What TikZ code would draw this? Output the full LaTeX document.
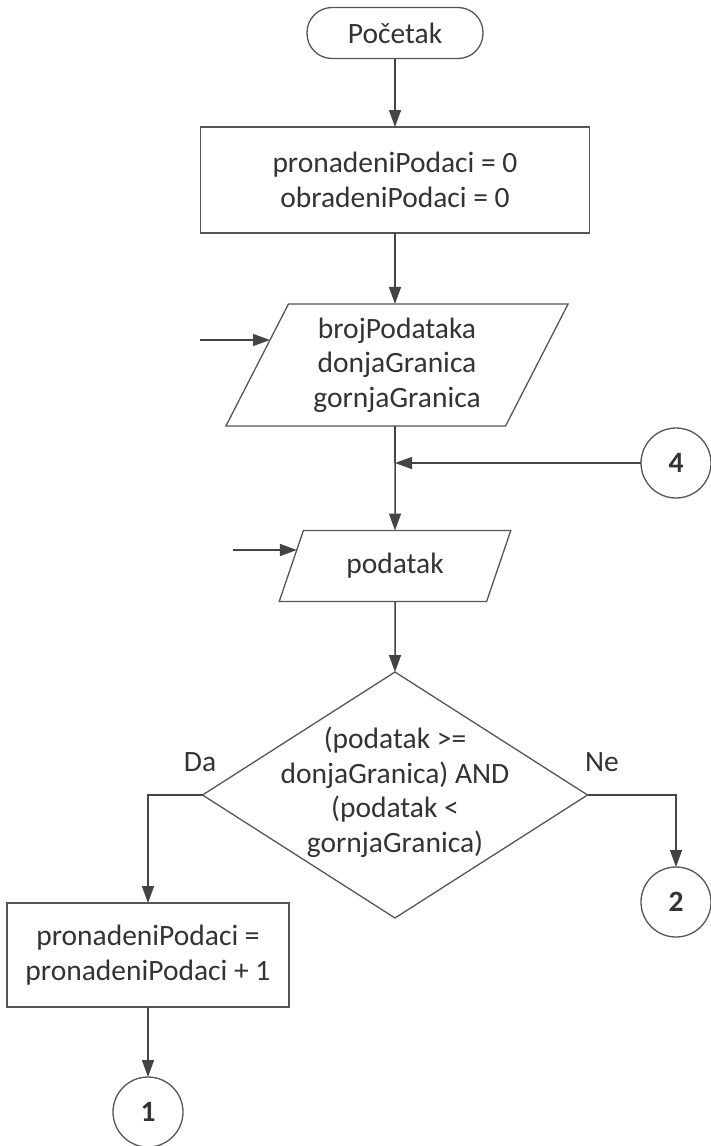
\documentclass[tikz,border=0pt]{standalone}
\usepackage{fontspec}
\setmainfont{Carlito}
\usetikzlibrary{shapes.geometric,arrows.meta,calc}
\definecolor{ink}{HTML}{333333}
\definecolor{edge}{HTML}{555555}
\definecolor{wire}{HTML}{444444}
\begin{document}
\begin{tikzpicture}[x=1pt,y=-1pt,
  every node/.style={font=\fontsize{29.5}{34.5}\selectfont, text=ink, align=center, inner sep=0pt, outer sep=0pt},
  shapebox/.style={draw=edge, line width=1.3pt},
  terminal/.style={shapebox, rectangle, rounded corners=25pt, minimum width=176pt, minimum height=51pt},
  process/.style={shapebox, rectangle},
  io/.style={shapebox, trapezium, trapezium left angle=63, trapezium right angle=117, trapezium stretches=true},
  decision/.style={shapebox, diamond},
  connector/.style={shapebox, circle, minimum size=70pt, font=\fontsize{29.5}{34.5}\selectfont\bfseries},
  flow/.style={draw=wire, line width=1.5pt, -{Triangle[length=17pt,width=12pt]}}
]
\useasboundingbox (0,0) rectangle (710,1146);

% shapes
\node[terminal] (start) at (395,33) {Početak};
\node[process, minimum width=389pt, minimum height=106pt] (init) at (395,180)
  {pronadeniPodaci = 0\\obradeniPodaci = 0};
\node[io, minimum width=343pt, minimum height=122pt] (readLimits) at (397,365)
  {brojPodataka\\donjaGranica\\gornjaGranica};
\node[connector] (c4) at (676,463) {4};
\node[io, minimum width=232pt, minimum height=71pt] (readValue) at (395,566) {podatak};
\node[decision, minimum width=385pt, minimum height=246pt] (test) at (395,795) {};
\node (testText) at (395,792)
  {(podatak >=\\donjaGranica) AND\\(podatak <\\gornjaGranica)};
\node[process, minimum width=282pt, minimum height=104pt] (count) at (148,955)
  {pronadeniPodaci =\\pronadeniPodaci + 1};
\node[connector] (c1) at (148,1112) {1};
\node[connector] (c2) at (676,902) {2};
\node (yes) at (200,762) {Da};
\node (no) at (602,762) {Ne};

% helper points
\coordinate (in1) at (200,340);
\coordinate (in2) at (233,550);
\coordinate (e1) at ($(readLimits.top left corner)!0.295!(readLimits.bottom left corner)$);
\coordinate (e2) at ($(readValue.top left corner)!0.27!(readValue.bottom left corner)$);
\coordinate (join) at (395,463);

% connectors
\draw[flow] (start.south) -- (init.north);
\draw[flow] (init.south) -- (init.south |- readLimits.north);
\draw[draw=wire, line width=1.5pt] (init.south |- readLimits.south) -- (join);
\draw[flow] (join) -- (readValue.north);
\draw[flow] (c4.west) -- (join);
\draw[flow] (in1) -- (in1 -| e1);
\draw[flow] (in2) -- (in2 -| e2);
\draw[flow] (readValue.south) -- (test.north);
\draw[flow] (test.west) -| (count.north);
\draw[flow] (test.east) -| (c2.north);
\draw[flow] (count.south) -- (c1.north);
\end{tikzpicture}
\end{document}
